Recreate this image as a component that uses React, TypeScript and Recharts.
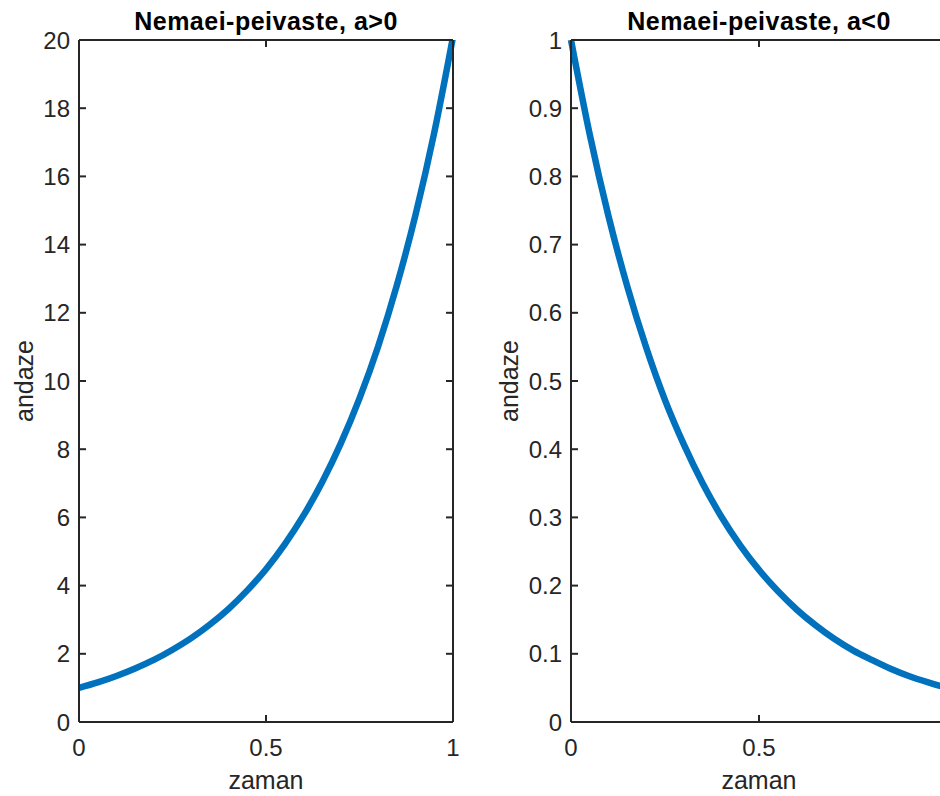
import { LineChart, Line, XAxis, YAxis, Label } from 'recharts';

// zaman (x) values shared by both panels
const zaman = [0, 0.05, 0.1, 0.15, 0.2, 0.25, 0.3, 0.35, 0.4, 0.45, 0.5, 0.55, 0.6, 0.65, 0.7, 0.75, 0.8, 0.85, 0.9, 0.95, 1];

// andaze (a>0)
const andazeRising = [1.0, 1.16, 1.35, 1.57, 1.82, 2.12, 2.46, 2.86, 3.32, 3.86, 4.48, 5.21, 6.05, 7.03, 8.17, 9.49, 11.02, 12.81, 14.88, 17.29, 20.09];

// andaze (a<0)
const andazeFalling = [1.0, 0.861, 0.741, 0.638, 0.549, 0.472, 0.407, 0.35, 0.301, 0.259, 0.223, 0.192, 0.165, 0.142, 0.122, 0.105, 0.091, 0.078, 0.067, 0.058, 0.05];

const xTicksRising = [0, 0.5, 1];
// the "1" label of the right panel falls outside the picture
const xTicksFalling = [0, 0.5];
const yTicksRising = [0, 2, 4, 6, 8, 10, 12, 14, 16, 18, 20];
const yTicksFalling = [0, 0.1, 0.2, 0.3, 0.4, 0.5, 0.6, 0.7, 0.8, 0.9, 1];

const titles = ['Nemaei-peivaste, a>0', 'Nemaei-peivaste, a<0'];
const xLabel = 'zaman';
const yLabel = 'andaze';

const risingData = zaman.map((t, i) => ({ t, v: andazeRising[i] }));
const fallingData = zaman.map((t, i) => ({ t, v: andazeFalling[i] }));

const ink = '#262626';
const blue = '#0072BD';
const font = '"Liberation Sans", Arial, Helvetica, sans-serif';
const tickLen = 7;

type TickProps = { x?: number; y?: number; payload?: { value: number } };

const LeftTick = ({ x = 0, y = 0, payload }: TickProps) => (
  <g>
    <line x1={x} y1={y} x2={x + tickLen} y2={y} stroke={ink} strokeWidth={2} />
    <text x={x - 9} y={y} dy="0.36em" textAnchor="end" fill={ink} fontFamily={font} fontSize={24}>
      {String(payload?.value)}
    </text>
  </g>
);

const RightTick = ({ x = 0, y = 0 }: TickProps) => (
  <line x1={x} y1={y} x2={x - tickLen} y2={y} stroke={ink} strokeWidth={2} />
);

const BottomTick = ({ x = 0, y = 0, payload }: TickProps) => (
  <g>
    <line x1={x} y1={y} x2={x} y2={y - tickLen} stroke={ink} strokeWidth={2} />
    <text x={x} y={y + 34} textAnchor="middle" fill={ink} fontFamily={font} fontSize={24}>
      {String(payload?.value)}
    </text>
  </g>
);

const TopTick = ({ x = 0, y = 0 }: TickProps) => (
  <line x1={x} y1={y} x2={x} y2={y + tickLen} stroke={ink} strokeWidth={2} />
);

type Box = { x: number; y: number; width: number; height: number };

const TitleText = ({ viewBox, value }: { viewBox?: Box; value?: string }) => {
  const b = viewBox as Box;
  return (
    <text x={b.x + b.width / 2} y={30} textAnchor="middle" fill="#000" fontFamily={font} fontWeight="bold" fontSize={25} letterSpacing={0.5}>
      {value}
    </text>
  );
};

const XLabelText = ({ viewBox, value }: { viewBox?: Box; value?: string }) => {
  const b = viewBox as Box;
  return (
    <text x={b.x + b.width / 2} y={789} textAnchor="middle" fill={ink} fontFamily={font} fontSize={25}>
      {value}
    </text>
  );
};

const makeYLabel = (baselineX: number) => ({ viewBox, value }: { viewBox?: Box; value?: string }) => {
  const b = viewBox as Box;
  const cy = b.y + b.height / 2;
  return (
    <text x={baselineX} y={cy} transform={`rotate(-90 ${baselineX} ${cy})`} textAnchor="middle" fill={ink} fontFamily={font} fontSize={25}>
      {value}
    </text>
  );
};

type PanelProps = {
  data: { t: number; v: number }[];
  xTicks: number[];
  yTicks: number[];
  yMax: number;
  title: string;
  left: number;
  yAxisWidth: number;
  plotWidth: number;
  labelX: number;
};

const Panel = ({ data, xTicks, yTicks, yMax, title, left, yAxisWidth, plotWidth, labelX }: PanelProps) => {
  const rightWidth = 17;
  return (
    <div style={{ position: 'absolute', left, top: 0 }}>
      <LineChart
        width={yAxisWidth + plotWidth + rightWidth}
        height={796}
        data={data}
        margin={{ top: 0, right: 0, bottom: 0, left: 0 }}
      >
        <XAxis
          xAxisId="b"
          dataKey="t"
          type="number"
          domain={[0, 1]}
          ticks={xTicks}
          height={74}
          tickSize={0}
          tickMargin={0}
          tickLine={false}
          stroke={ink}
          strokeWidth={2}
          tick={<BottomTick />}
          interval={0}
        >
          <Label value={xLabel} content={<XLabelText />} />
        </XAxis>
        <XAxis
          xAxisId="t"
          orientation="top"
          dataKey="t"
          type="number"
          domain={[0, 1]}
          ticks={xTicks}
          height={40}
          tickSize={0}
          tickMargin={0}
          tickLine={false}
          stroke={ink}
          strokeWidth={2}
          tick={<TopTick />}
          interval={0}
        >
          <Label value={title} content={<TitleText />} />
        </XAxis>
        <YAxis
          yAxisId="l"
          type="number"
          domain={[0, yMax]}
          allowDataOverflow
          ticks={yTicks}
          width={yAxisWidth}
          tickSize={0}
          tickMargin={0}
          tickLine={false}
          stroke={ink}
          strokeWidth={2}
          tick={<LeftTick />}
          interval={0}
        >
          <Label value={yLabel} content={makeYLabel(labelX)} />
        </YAxis>
        <YAxis
          yAxisId="r"
          orientation="right"
          type="number"
          domain={[0, yMax]}
          allowDataOverflow
          ticks={yTicks}
          width={rightWidth}
          tickSize={0}
          tickMargin={0}
          tickLine={false}
          stroke={ink}
          strokeWidth={2}
          tick={<RightTick />}
          interval={0}
        />
        <Line
          xAxisId="b"
          yAxisId="l"
          type="monotone"
          dataKey="v"
          stroke={blue}
          strokeWidth={6.5}
          dot={false}
          activeDot={false}
          isAnimationActive={false}
        />
      </LineChart>
    </div>
  );
};

export default function App() {
  return (
    <div style={{ position: 'absolute', left: 0, top: 0, width: 940, height: 796, overflow: 'hidden', background: '#fff' }}>
      <Panel data={risingData} xTicks={xTicksRising} yTicks={yTicksRising} yMax={20} title={titles[0]} left={0} yAxisWidth={79} plotWidth={374} labelX={33} />
      <Panel data={fallingData} xTicks={xTicksFalling} yTicks={yTicksFalling} yMax={1} title={titles[1]} left={470} yAxisWidth={101} plotWidth={376} labelX={48} />
    </div>
  );
}
